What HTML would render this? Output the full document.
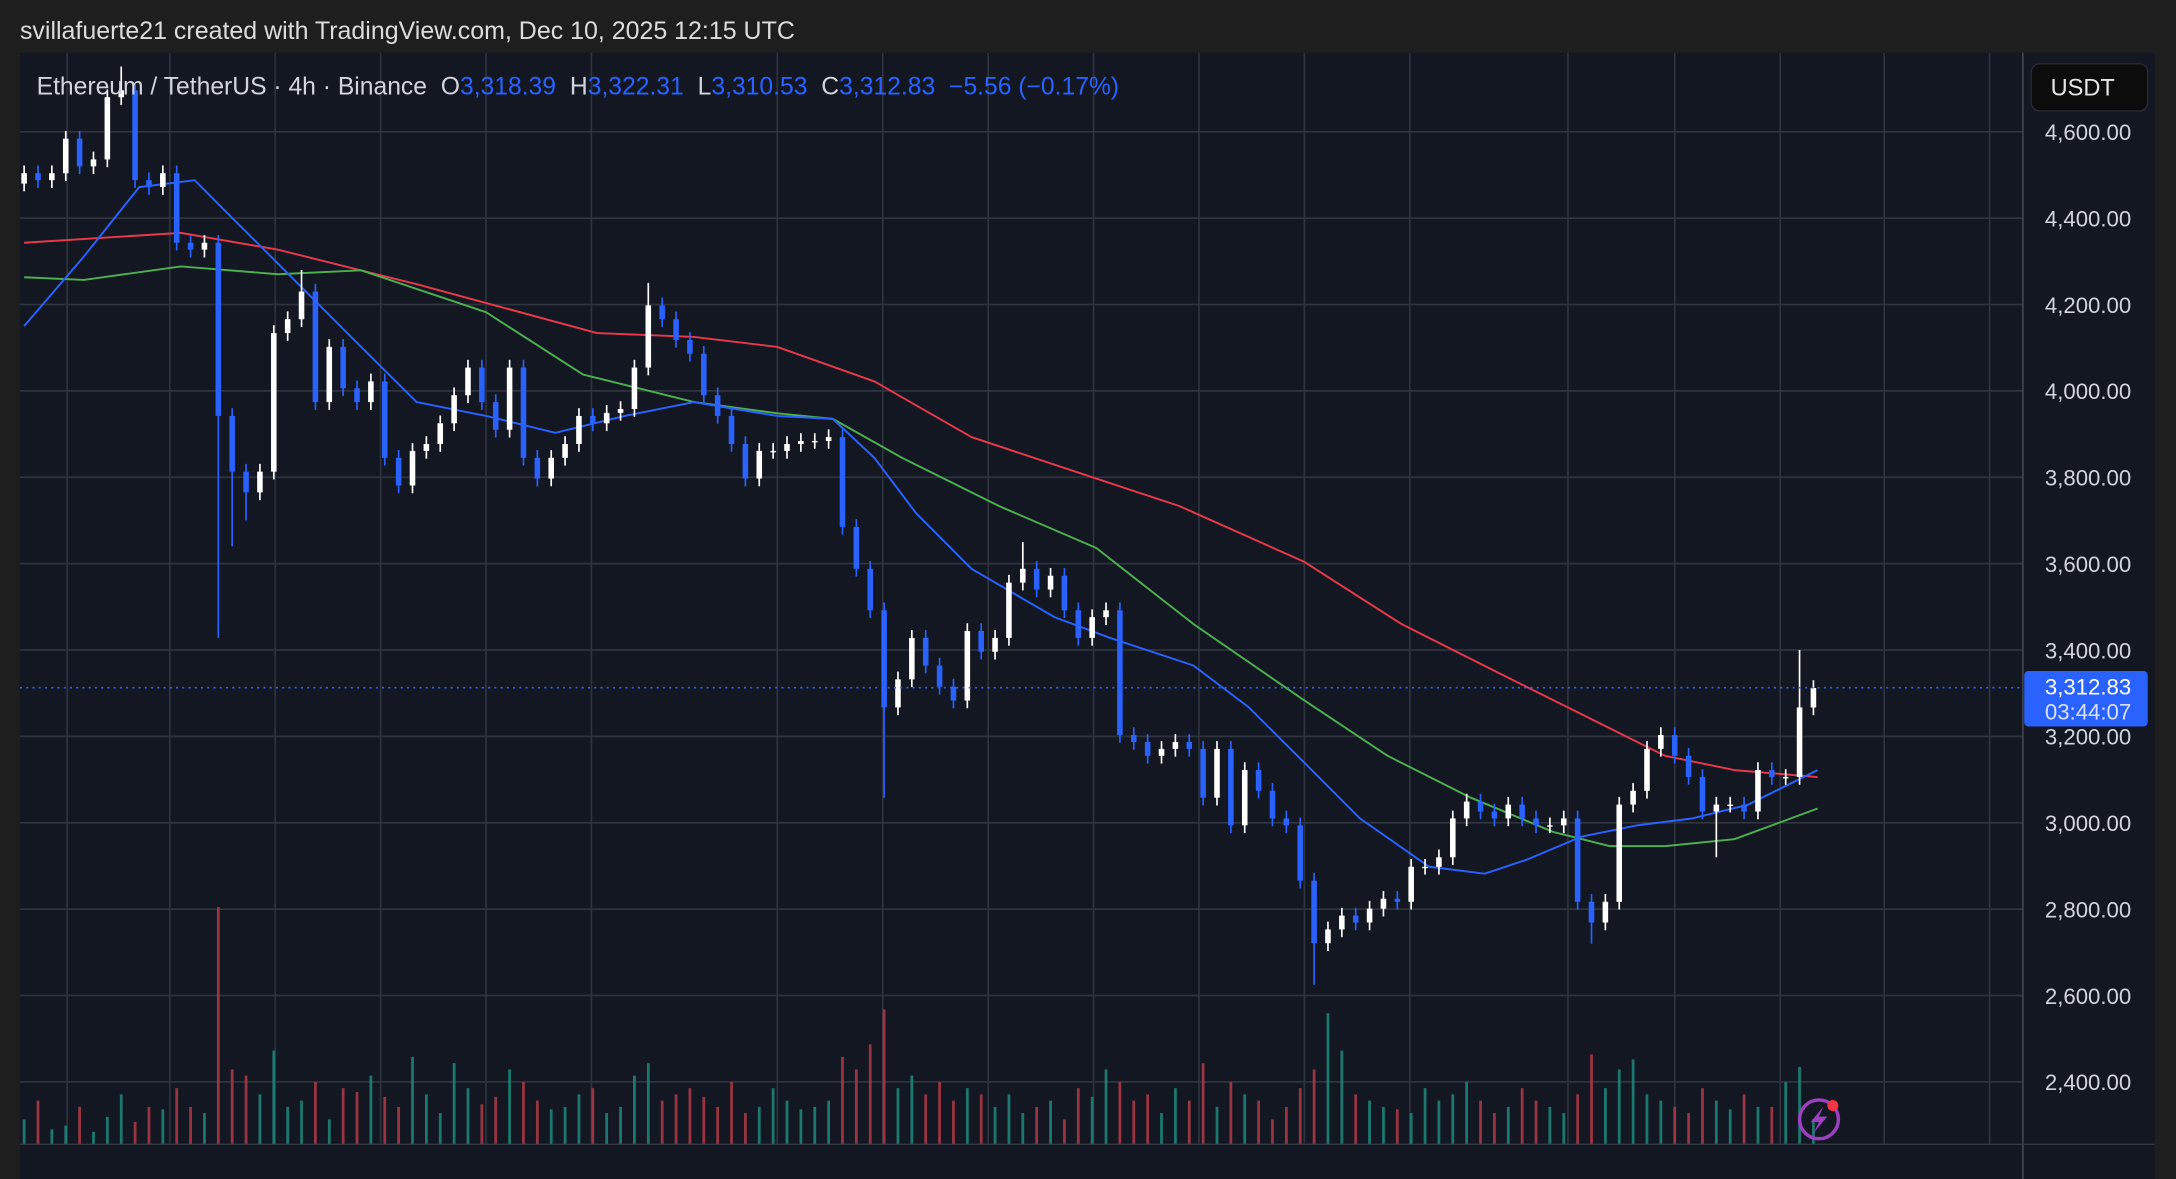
<!DOCTYPE html>
<html><head><meta charset="utf-8"><style>
html,body{margin:0;padding:0;background:#1e1e1f;}
svg{display:block;}
text{font-family:"Liberation Sans",sans-serif;}
</style></head><body>
<svg id="chart" width="2176" height="1179" viewBox="0 0 1568 850" xmlns="http://www.w3.org/2000/svg">
<rect x="0" y="0" width="1568" height="850" fill="#1e1e1f"/>
<rect x="14" y="38" width="1539" height="812" fill="#131722"/>
<text x="14" y="28" font-size="18" fill="#dcdcdc">svillafuerte21 created with TradingView.com, Dec 10, 2025 12:15 UTC</text>
<g id="grid"></g>
<g id="volume"></g>
<g id="mas"></g>
<g id="candles"></g>
<line x1="1458" y1="38" x2="1458" y2="850" stroke="#4a4e59" stroke-width="1"/>
<line x1="14" y1="825" x2="1553" y2="825" stroke="#363a45" stroke-width="1"/>
<g id="axis"></g>
<rect x="1464" y="46" width="84" height="34" rx="6" fill="#0c0c0d" stroke="#2a2a2e"/>
<text x="1478" y="69" font-size="17" fill="#e6e6e6">USDT</text>
<text x="26" y="68" font-size="17.8" fill="#d1d4dc">Ethereum / TetherUS · 4h · Binance  <tspan dx="5">O</tspan><tspan fill="#2962ff">3,318.39</tspan><tspan dx="10">H</tspan><tspan fill="#2962ff">3,322.31</tspan><tspan dx="10">L</tspan><tspan fill="#2962ff">3,310.53</tspan><tspan dx="10">C</tspan><tspan fill="#2962ff">3,312.83</tspan><tspan dx="10" fill="#2962ff">−5.56 (−0.17%)</tspan></text>
<g>
<circle cx="1311" cy="807" r="14" fill="none" stroke="#9c3fc1" stroke-width="2.5"/>
<path d="M1314 798 L1305 809 L1311 809 L1307 817 L1317 805 L1311 805 Z" fill="#9c3fc1"/>
<circle cx="1321" cy="797" r="4" fill="#f23645"/>
</g>
</svg>
<script>
const closes=[4504,4488,4504,4584,4520,4536,4680,4696,4488,4472,
4504,4343,4327,4343,3942,3813,3765,3813,4134,4166,
4230,3974,4102,4006,3974,4022,3845,3781,3861,3877,
3925,3990,4054,3974,3910,4054,3845,3797,3845,3877,
3942,3925,3949,3958,4054,4198,4166,4118,4086,3990,
3942,3877,3797,3861,3861,3877,3884,3884,3893,3685,
3588,3492,3267,3332,3428,3364,3315,3283,3444,3396,
3428,3556,3588,3540,3572,3492,3428,3476,3492,3203,
3187,3155,3171,3187,3171,3058,3171,2994,3122,3074,
3010,2994,2866,2721,2753,2785,2769,2801,2824,2817,
2898,2898,2920,3010,3049,3026,3010,3042,3010,2994,
2994,3010,2817,2769,2817,3042,3074,3171,3203,3155,
3106,3026,3042,3042,3026,3122,3106,3106,3267,3312];
const firstOpen=4480;
const lowSpikes=[[14,3428],[15,3640],[62,3058],[93,2625],[113,2720],[122,2920],[16,3700]];
const highSpikes=[[7,4751],[45,4250],[128,3400],[20,4280],[72,3650]];
const volumes=[20,35,12,15,30,10,22,40,18,30,
28,45,30,25,190,60,55,40,75,30,
35,50,20,45,42,55,38,30,70,40,
25,65,45,32,38,60,50,35,28,30,
40,45,25,30,55,65,35,40,45,38,
30,50,25,30,45,35,28,30,35,70,
60,80,108,45,55,40,50,35,45,40,
30,40,25,30,35,20,45,38,60,50,
35,40,25,45,35,65,30,50,40,35,
20,30,45,60,105,75,40,35,30,28,
25,45,35,40,50,35,25,30,45,35,
30,25,40,72,45,60,68,40,35,30,
25,45,35,28,40,30,30,50,62,20];
const maBlue=[[0,4150],[4.3,4311],[8.3,4472],[12.3,4488],[14.3,4423],[18.3,4295],[23.3,4134],[28.3,3974],[33.3,3942],[38.3,3903],[43.3,3942],[48.3,3974],[54.3,3942],[58.3,3935],[61.3,3845],[64.3,3717],[68.3,3588],[74.3,3476],[78.3,3428],[84.3,3364],[88.3,3267],[92.3,3139],[96.3,3010],[101.3,2898],[105.3,2882],[108.3,2914],[112.3,2968],[116.3,2994],[120.3,3010],[124.3,3042],[127.3,3090],[129.3,3122]];
const maGreen=[[0,4263],[4.3,4257],[11.3,4288],[18.3,4270],[24.3,4279],[33.3,4182],[40.3,4038],[48.3,3974],[54.3,3948],[58.3,3935],[63.3,3845],[70.3,3733],[77.3,3636],[84.3,3460],[92.3,3283],[98.3,3155],[104.3,3058],[110.3,2978],[114.3,2946],[118.3,2946],[123.3,2962],[129.3,3033]];
const maRed=[[0,4343],[11.3,4366],[18.3,4327],[28.3,4247],[41.3,4134],[48.3,4125],[54.3,4102],[61.3,4022],[68.3,3893],[77.3,3797],[83.3,3733],[92.3,3604],[99.3,3460],[106.3,3347],[113.3,3235],[118.3,3155],[123.3,3122],[129.3,3106]];
const priceTicks=[4600,4400,4200,4000,3800,3600,3400,3200,3000,2800,2600,2400];
const vGrid=[48,122,198,274,350,426,560,636,712,788,864,940,1016,1130,1207,1283,1358,1434];
const lastPrice=3312.83;

const NS='http://www.w3.org/2000/svg';
function yP(p){return 95+(4600-p)/200*62.27;}
function xI(i){return 17+i*10;}
function yV(v){return 825-v*0.9;}
function mk(tag,attrs,parent){const e=document.createElementNS(NS,tag);for(const k in attrs)e.setAttribute(k,attrs[k]);parent.appendChild(e);return e;}
const grid=document.getElementById('grid');
priceTicks.forEach(p=>{
  const l=mk('line',{x1:14,x2:1458,y1:yP(p),y2:yP(p),stroke:'#2f333e','stroke-width':1.2},grid);
  
  
});
vGrid.forEach(x=>{
  const l=mk('line',{x1:x,x2:x,y1:38,y2:825,stroke:'#2f333e','stroke-width':1.2},grid);
  
  
});
const axis=document.getElementById('axis');
priceTicks.forEach(p=>{
  const t=mk('text',{x:1505,y:yP(p)+6,'font-size':16,fill:'#d1d4dc','text-anchor':'middle'},axis);
  t.textContent=p.toLocaleString('en-US',{minimumFractionDigits:2});
  
  
});
const dl=mk('line',{x1:14,x2:1458,y1:yP(lastPrice),y2:yP(lastPrice),stroke:'#2962ff','stroke-width':1.2,'stroke-dasharray':'1.5 3'},axis);


const lb=mk('rect',{x:1459,y:yP(lastPrice)-12,width:89,height:40,rx:3,fill:'#2962ff'},axis);


const lt=mk('text',{x:1505,y:yP(lastPrice)+5,'font-size':16,fill:'#ffffff','text-anchor':'middle'},axis);
lt.textContent=lastPrice.toLocaleString('en-US',{minimumFractionDigits:2});


const lt2=mk('text',{x:1505,y:yP(lastPrice)+23,'font-size':16,fill:'#d6e0ff','text-anchor':'middle'},axis);
lt2.textContent='03:44:07';



const vg=document.getElementById('volume');
volumes.forEach((v,i)=>{
  const o=i?closes[i-1]:firstOpen, c=closes[i];
  const r=mk('rect',{x:xI(i)-1,y:yV(v),width:2,height:825-yV(v),fill:c>=o?'#1f8a7d':'#b23a48',opacity:0.85},vg);
  
  
});
const mg=document.getElementById('mas');
[[maRed,'#e8394c','ma-red'],[maGreen,'#4caf50','ma-green'],[maBlue,'#2962ff','ma-blue']].forEach(([arr,col,nm])=>{
  const d=arr.map((pt,j)=>(j?'L':'M')+xI(pt[0]).toFixed(1)+' '+yP(pt[1]).toFixed(1)).join(' ');
  const p=mk('path',{d:d,fill:'none',stroke:col,'stroke-width':1.4,'stroke-linejoin':'round'},mg);
  
  
});
const cg=document.getElementById('candles');
const lowMap={},highMap={};
lowSpikes.forEach(s=>lowMap[s[0]]=s[1]);
highSpikes.forEach(s=>highMap[s[0]]=s[1]);
closes.forEach((c,i)=>{
  const o=i?closes[i-1]:firstOpen;
  const up=c>=o, col=up?'#ffffff':'#2962ff';
  const hi=highMap[i]!==undefined?highMap[i]:Math.max(o,c)+18;
  const lo=lowMap[i]!==undefined?lowMap[i]:Math.min(o,c)-18;
  const w=mk('line',{x1:xI(i),x2:xI(i),y1:yP(hi),y2:yP(lo),stroke:col,'stroke-width':1.2},cg);
  
  
  const top=yP(Math.max(o,c)), bot=yP(Math.min(o,c));
  const b=mk('rect',{x:xI(i)-2,y:top,width:4,height:Math.max(1,bot-top),fill:col},cg);
  
  
});
</script>
</body></html>
